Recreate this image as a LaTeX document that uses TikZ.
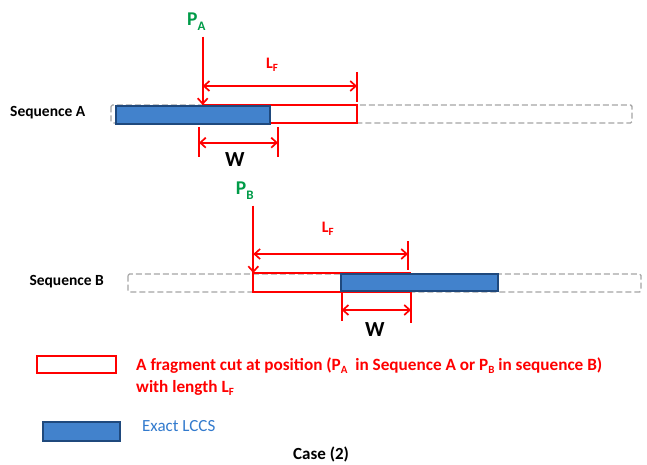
\documentclass[tikz,border=0pt]{standalone}
\usepackage{fontspec}
\setmainfont{Carlito}
\usetikzlibrary{arrows.meta}
\definecolor{fragred}{RGB}{255,0,0}
\definecolor{lccsblue}{RGB}{66,130,204}
\definecolor{lccsborder}{RGB}{31,73,125}
\definecolor{pgreen}{RGB}{0,155,72}
\definecolor{dashgray}{RGB}{165,165,165}
\definecolor{txtblue}{RGB}{50,122,205}
\newcommand\mysub[3]{\raisebox{-#2}{\fontsize{#1}{#1}\selectfont #3}}
\begin{document}
\begin{tikzpicture}[x=1pt,y=-1pt,
  frag/.style={draw=fragred,line width=1.7pt},
  lccs/.style={draw=lccsborder,fill=lccsblue,line width=1.2pt},
  seqbox/.style={draw=dashgray,dash pattern=on 6pt off 3pt,line width=1.4pt,rounded corners=1.5pt},
  redln/.style={draw=fragred,line width=1.7pt},
  barb/.tip={Straight Barb[length=5.5pt,width=10pt]},
  dimarrow/.style={redln,barb-barb},
  pointer/.style={redln,-barb},
  lbl/.style={inner sep=0pt,anchor=base west},
  seqlbl/.style={lbl,font=\fontsize{15.5}{18}\selectfont\bfseries},
  plbl/.style={lbl,text=pgreen,font=\fontsize{19.5}{22}\selectfont\bfseries},
  lflbl/.style={lbl,text=fragred,font=\fontsize{16}{19}\selectfont\bfseries},
  wlbl/.style={lbl,font=\fontsize{21.5}{24}\selectfont\bfseries},
  leglbl/.style={lbl,text=fragred,font=\fontsize{17.2}{20}\selectfont\bfseries}
]
\useasboundingbox (0,0) rectangle (647,465);

% ---------- Sequence A ----------
\node[seqlbl] (seqA) at (10,117) {Sequence A};
\coordinate (dA1) at (111,105); \coordinate (dA2) at (632,123);
\draw[seqbox] (dA1) rectangle (dA2);
\coordinate (fA1) at (202.7,105); \coordinate (fA2) at (357,123);
\draw[frag] (fA1) rectangle (fA2);
\coordinate (bA1) at (116,106); \coordinate (bA2) at (270,124);
\draw[lccs] (bA1) rectangle (bA2);

\node[plbl] (PA) at (187,26) {P\mysub{13}{5pt}{A}};
\coordinate (pAtop) at (202.7,36.7);
\draw[pointer] (pAtop) -- (fA1);

\coordinate (lfAt1) at (357,72); \coordinate (lfAt2) at (357,102);
\draw[redln] (lfAt1) -- (lfAt2);
\coordinate (lfAl) at (202.7,86); \coordinate (lfAr) at (357,86);
\draw[dimarrow] (lfAl) -- (lfAr);
\node[lflbl] (LFA) at (266,68.3) {L\mysub{11}{3pt}{F}};

\coordinate (wAt1a) at (199,127); \coordinate (wAt1b) at (199,157);
\coordinate (wAt2a) at (278,127); \coordinate (wAt2b) at (278,157);
\draw[redln] (wAt1a) -- (wAt1b);
\draw[redln] (wAt2a) -- (wAt2b);
\coordinate (wAl) at (199,142.7); \coordinate (wAr) at (278,142.7);
\draw[dimarrow] (wAl) -- (wAr);
\node[wlbl] (WA) at (225,166.7) {W};

% ---------- Sequence B ----------
\node[seqlbl] (seqB) at (29.3,285) {Sequence B};
\coordinate (dB1) at (128,274); \coordinate (dB2) at (641,292);
\draw[seqbox] (dB1) rectangle (dB2);
\coordinate (fB1) at (253.3,273); \coordinate (fB2) at (410,292);
\draw[frag] (fB1) rectangle (fB2);
\coordinate (bB1) at (341,274); \coordinate (bB2) at (498,291);
\draw[lccs] (bB1) rectangle (bB2);

\node[plbl] (PB) at (235.7,194.3) {P\mysub{13}{5pt}{B}};
\coordinate (pBtop) at (253.3,205.7);
\draw[pointer] (pBtop) -- (fB1);

\coordinate (lfBt1) at (408,241); \coordinate (lfBt2) at (408,270);
\draw[redln] (lfBt1) -- (lfBt2);
\coordinate (lfBl) at (253.3,254); \coordinate (lfBr) at (408,254);
\draw[dimarrow] (lfBl) -- (lfBr);
\node[lflbl] (LFB) at (321.7,232.3) {L\mysub{11}{3pt}{F}};

\coordinate (wBt1a) at (341.7,292); \coordinate (wBt1b) at (341.7,321);
\coordinate (wBt2a) at (411,292); \coordinate (wBt2b) at (411,323);
\draw[redln] (wBt1a) -- (wBt1b);
\draw[redln] (wBt2a) -- (wBt2b);
\coordinate (wBl) at (341.7,310); \coordinate (wBr) at (411,310);
\draw[dimarrow] (wBl) -- (wBr);
\node[wlbl] (WB) at (365,336.7) {W};

% ---------- Legend ----------
\coordinate (lr1) at (37,356); \coordinate (lr2) at (116,373);
\draw[frag] (lr1) rectangle (lr2);
\node[leglbl] (leg1) at (136,370) {A fragment cut at position (P\mysub{11}{3.5pt}{A}\ \ in Sequence A or P\mysub{11}{3.5pt}{B} in sequence B)};
\node[leglbl] (leg2) at (136,392) {with length L\mysub{11}{3.5pt}{F}};

\coordinate (lb1) at (43,422); \coordinate (lb2) at (120,441);
\draw[lccs] (lb1) rectangle (lb2);
\node[lbl,text=txtblue,font=\fontsize{17}{20}\selectfont] (leg3) at (142,431.5) {Exact LCCS};

\node[lbl,font=\fontsize{17}{20}\selectfont\bfseries] (case) at (293,459) {Case (2)};
\end{tikzpicture}
\end{document}
